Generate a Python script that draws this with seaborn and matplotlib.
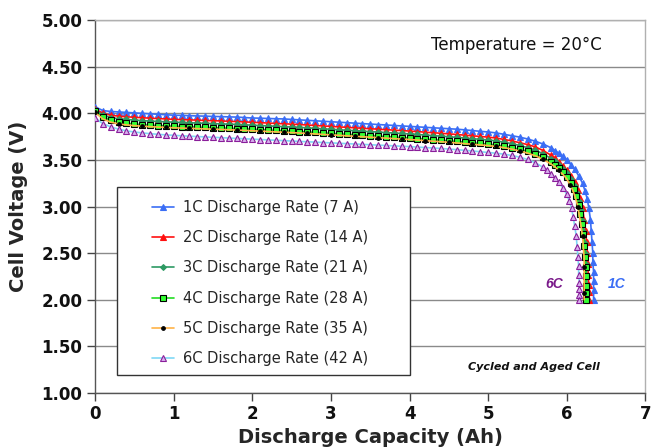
import matplotlib
matplotlib.use("Agg")
import matplotlib.pyplot as plt
from matplotlib.patches import Rectangle
import seaborn as sns
import pandas as pd

# ---------------- data ----------------
cap_flat = [0.0, 0.1, 0.2, 0.3, 0.4, 0.5, 0.6, 0.7, 0.8, 0.9,
            1.0, 1.1, 1.2, 1.3, 1.4, 1.5, 1.6, 1.7, 1.8, 1.9,
            2.0, 2.1, 2.2, 2.3, 2.4, 2.5, 2.6, 2.7, 2.8, 2.9,
            3.0, 3.1, 3.2, 3.3, 3.4, 3.5, 3.6, 3.7, 3.8, 3.9,
            4.0, 4.1, 4.2, 4.3, 4.4, 4.5, 4.6, 4.7, 4.8, 4.9,
            5.0]

v1_flat = [4.07, 4.03, 4.02, 4.015, 4.01, 4.005, 4.00, 3.995, 3.99, 3.985,
           3.98, 3.978, 3.975, 3.972, 3.97, 3.967, 3.965, 3.962, 3.96, 3.955,
           3.95, 3.948, 3.945, 3.942, 3.94, 3.935, 3.93, 3.925, 3.92, 3.915,
           3.91, 3.905, 3.90, 3.895, 3.89, 3.885, 3.88, 3.875, 3.87, 3.865,
           3.86, 3.855, 3.85, 3.845, 3.84, 3.835, 3.83, 3.823, 3.815, 3.807,
           3.80]
v2_flat = [4.05, 4.00, 3.98, 3.97, 3.963, 3.958, 3.953, 3.948, 3.944, 3.94,
           3.936, 3.933, 3.93, 3.927, 3.924, 3.921, 3.918, 3.915, 3.912, 3.908,
           3.904, 3.90, 3.896, 3.892, 3.888, 3.884, 3.88, 3.875, 3.87, 3.865,
           3.86, 3.855, 3.85, 3.845, 3.84, 3.835, 3.83, 3.825, 3.82, 3.815,
           3.81, 3.804, 3.798, 3.792, 3.786, 3.78, 3.773, 3.766, 3.759, 3.752,
           3.745]
v3_flat = [4.04, 3.98, 3.955, 3.942, 3.934, 3.928, 3.922, 3.917, 3.913, 3.909,
           3.905, 3.902, 3.899, 3.896, 3.893, 3.89, 3.887, 3.884, 3.881, 3.877,
           3.873, 3.869, 3.865, 3.861, 3.857, 3.853, 3.849, 3.844, 3.839, 3.834,
           3.829, 3.824, 3.819, 3.814, 3.809, 3.804, 3.799, 3.794, 3.789, 3.784,
           3.779, 3.773, 3.767, 3.761, 3.755, 3.749, 3.742, 3.735, 3.728, 3.721,
           3.714]
v4_flat = [4.03, 3.96, 3.925, 3.905, 3.893, 3.885, 3.878, 3.873, 3.869, 3.865,
           3.861, 3.858, 3.855, 3.852, 3.849, 3.846, 3.843, 3.84, 3.837, 3.833,
           3.829, 3.825, 3.821, 3.817, 3.813, 3.809, 3.805, 3.80, 3.795, 3.79,
           3.785, 3.78, 3.775, 3.77, 3.765, 3.76, 3.755, 3.75, 3.745, 3.74,
           3.735, 3.729, 3.723, 3.717, 3.711, 3.705, 3.698, 3.691, 3.684, 3.677,
           3.67]
v5_flat = [4.01, 3.94, 3.905, 3.887, 3.876, 3.868, 3.862, 3.857, 3.853, 3.849,
           3.845, 3.842, 3.839, 3.836, 3.833, 3.83, 3.827, 3.824, 3.821, 3.817,
           3.813, 3.809, 3.805, 3.801, 3.797, 3.793, 3.789, 3.784, 3.779, 3.774,
           3.769, 3.764, 3.759, 3.754, 3.749, 3.744, 3.739, 3.734, 3.729, 3.724,
           3.719, 3.713, 3.707, 3.701, 3.695, 3.689, 3.682, 3.675, 3.668, 3.661,
           3.654]
v6_flat = [3.95, 3.89, 3.855, 3.83, 3.812, 3.80, 3.79, 3.782, 3.775, 3.769,
           3.764, 3.759, 3.755, 3.751, 3.747, 3.743, 3.739, 3.735, 3.731, 3.727,
           3.723, 3.719, 3.715, 3.711, 3.707, 3.703, 3.699, 3.695, 3.691, 3.687,
           3.683, 3.679, 3.675, 3.671, 3.667, 3.663, 3.659, 3.655, 3.651, 3.647,
           3.643, 3.638, 3.633, 3.628, 3.623, 3.617, 3.61, 3.603, 3.596, 3.588,
           3.58]

c1_tail = [5.1, 5.2, 5.3, 5.4, 5.5, 5.6, 5.7, 5.8, 5.85, 5.9, 5.95, 6.0, 6.05, 6.1,
           6.15, 6.2, 6.23, 6.26, 6.28, 6.30, 6.31, 6.32, 6.33, 6.33, 6.34, 6.34, 6.34, 6.34]
v1_tail = [3.79, 3.775, 3.76, 3.745, 3.725, 3.70, 3.67, 3.63, 3.60, 3.57, 3.54, 3.50, 3.45, 3.40,
           3.33, 3.25, 3.17, 3.08, 2.98, 2.86, 2.74, 2.62, 2.50, 2.40, 2.30, 2.20, 2.10, 2.00]
c2_tail = [5.1, 5.2, 5.3, 5.4, 5.5, 5.6, 5.7, 5.8, 5.85, 5.9, 5.95, 6.0, 6.05,
           6.1, 6.14, 6.17, 6.2, 6.22, 6.24, 6.25, 6.26, 6.27, 6.27, 6.28, 6.28, 6.28]
v2_tail = [3.735, 3.72, 3.705, 3.685, 3.665, 3.64, 3.60, 3.55, 3.52, 3.48, 3.44, 3.39, 3.33,
           3.26, 3.18, 3.09, 2.98, 2.86, 2.74, 2.62, 2.50, 2.38, 2.26, 2.16, 2.08, 2.00]
c3_tail = [5.1, 5.2, 5.3, 5.4, 5.5, 5.6, 5.7, 5.8, 5.85, 5.9, 5.95, 6.0, 6.05,
           6.1, 6.13, 6.16, 6.18, 6.2, 6.22, 6.23, 6.24, 6.25, 6.25, 6.26, 6.26, 6.26]
v3_tail = [3.705, 3.69, 3.675, 3.655, 3.632, 3.605, 3.565, 3.515, 3.485, 3.445, 3.405, 3.355, 3.295,
           3.22, 3.15, 3.06, 2.96, 2.85, 2.73, 2.61, 2.49, 2.37, 2.25, 2.15, 2.07, 2.00]
c4_tail = [5.1, 5.2, 5.3, 5.4, 5.5, 5.6, 5.7, 5.8, 5.85, 5.9, 5.95, 6.0, 6.05,
           6.09, 6.12, 6.15, 6.17, 6.19, 6.21, 6.22, 6.23, 6.24, 6.24, 6.24, 6.24, 6.24]
v4_tail = [3.66, 3.648, 3.633, 3.614, 3.592, 3.565, 3.527, 3.478, 3.448, 3.41, 3.37, 3.32, 3.255,
           3.185, 3.11, 3.02, 2.92, 2.81, 2.70, 2.58, 2.46, 2.35, 2.25, 2.15, 2.07, 2.00]
c5_tail = [5.1, 5.2, 5.3, 5.4, 5.5, 5.6, 5.7, 5.8, 5.85, 5.9, 5.95, 6.0, 6.04,
           6.08, 6.11, 6.14, 6.16, 6.18, 6.2, 6.21, 6.22, 6.22, 6.22, 6.22, 6.22, 6.22]
v5_tail = [3.645, 3.632, 3.616, 3.596, 3.573, 3.545, 3.505, 3.455, 3.425, 3.387, 3.345, 3.295, 3.235,
           3.165, 3.09, 3.00, 2.90, 2.79, 2.68, 2.56, 2.45, 2.35, 2.25, 2.15, 2.07, 2.00]
c6_tail = [5.1, 5.2, 5.3, 5.4, 5.5, 5.6, 5.7, 5.75, 5.8, 5.85, 5.9, 5.95, 6.0,
           6.03, 6.06, 6.08, 6.1, 6.12, 6.13, 6.14, 6.15, 6.15, 6.16, 6.16, 6.16, 6.16]
v6_tail = [3.572, 3.562, 3.548, 3.53, 3.505, 3.47, 3.42, 3.39, 3.35, 3.31, 3.26, 3.20, 3.13,
           3.06, 2.98, 2.89, 2.79, 2.68, 2.57, 2.46, 2.36, 2.27, 2.18, 2.11, 2.05, 2.00]

labels = ["1C Discharge Rate (7 A)", "2C Discharge Rate (14 A)", "3C Discharge Rate (21 A)",
          "4C Discharge Rate (28 A)", "5C Discharge Rate (35 A)", "6C Discharge Rate (42 A)"]
caps = [cap_flat + c1_tail, cap_flat + c2_tail, cap_flat + c3_tail,
        cap_flat + c4_tail, cap_flat + c5_tail, cap_flat + c6_tail]
volts = [v1_flat + v1_tail, v2_flat + v2_tail, v3_flat + v3_tail,
         v4_flat + v4_tail, v5_flat + v5_tail, v6_flat + v6_tail]

x_ticks = [0, 1, 2, 3, 4, 5, 6, 7]
y_ticks = [1.00, 1.50, 2.00, 2.50, 3.00, 3.50, 4.00, 4.50, 5.00]

# ---------------- style ----------------
styles = [
    dict(color="#3b6ef5", marker="^", mfc="#3b6ef5", mec="#3b6ef5", ms=4.2, every=1),
    dict(color="#ff1010", marker="^", mfc="#ff1010", mec="#ff1010", ms=4.2, every=1),
    dict(color="#2e9a63", marker="D", mfc="#2e9a63", mec="#2e9a63", ms=3.0, every=1),
    dict(color="#22dd22", marker="s", mfc="#33ff33", mec="#000000", ms=3.8, every=1),
    dict(color="#ffb347", marker="o", mfc="#000000", mec="#000000", ms=2.6, every=3),
    dict(color="#7fd8f5", marker="^", mfc="#d8b0ee", mec="#8a1e9a", ms=4.5, every=1),
]

sns.set_theme(style="white")
plt.rcParams['font.family'] = ['DejaVu Sans']

fig = plt.figure(figsize=(6.53, 4.48), dpi=100)
ax = fig.add_axes([0.1455, 0.123, 0.8430, 0.832])

for lab, cx, vy, st in zip(labels, caps, volts, styles):
    df = pd.DataFrame({"cap": cx, "v": vy})
    sns.lineplot(data=df, x="cap", y="v", ax=ax, sort=False, estimator=None,
                 color=st["color"], marker=st["marker"], markerfacecolor=st["mfc"],
                 markeredgecolor=st["mec"], markersize=st["ms"], markeredgewidth=0.8,
                 markevery=st["every"], linewidth=1.2, label=lab, legend=False, zorder=3)

ax.set_xlim(0, 7)
ax.set_ylim(1.0, 5.0)
ax.set_xticks(x_ticks)
ax.set_yticks(y_ticks)
ax.set_xticklabels([str(t) for t in x_ticks], fontweight="bold", fontsize=12)
ax.set_yticklabels([f"{t:.2f}" for t in y_ticks], fontweight="bold", fontsize=12)
ax.tick_params(axis="both", direction="out", length=6, width=1, color="#444444",
               bottom=True, left=True, pad=3, labelcolor="#111111")
ax.yaxis.grid(True, color="#8a8a8a", linewidth=1.0, zorder=0)
ax.xaxis.grid(False)
ax.set_axisbelow(True)
for side in ["top", "right"]:
    ax.spines[side].set_color("#b0b0b0")
    ax.spines[side].set_linewidth(1.0)
for side in ["left", "bottom"]:
    ax.spines[side].set_color("#555555")
    ax.spines[side].set_linewidth(1.0)

ax.set_xlabel("Discharge Capacity (Ah)", fontweight="bold", fontsize=14, labelpad=3)
ax.set_ylabel("Cell Voltage (V)", fontweight="bold", fontsize=14, labelpad=10)

# legend box
rect = Rectangle((0.040, 0.048), 0.532, 0.504, transform=ax.transAxes,
                 facecolor="white", edgecolor="#333333", linewidth=1.0, zorder=2)
ax.add_patch(rect)
leg = ax.legend(loc="upper left", bbox_to_anchor=(0.104, 0.518), frameon=False,
                fontsize=10.5, handlelength=1.5, handletextpad=0.6,
                labelspacing=1.05, borderpad=0, borderaxespad=0)
leg.set_zorder(4)

# annotations
ax.text(5.36, 4.73, "Temperature = 20\u00b0C", fontsize=12, ha="center", va="center",
        color="#111111")
ax.text(5.84, 2.17, "6C", fontsize=10, fontweight="bold", style="italic",
        color="#7a1a8a", ha="center", va="center", family=["Liberation Sans"])
ax.text(6.63, 2.17, "1C", fontsize=10, fontweight="bold", style="italic",
        color="#3b6ef5", ha="center", va="center", family=["Liberation Sans"])
ax.text(5.58, 1.28, "Cycled and Aged Cell", fontsize=8, fontweight="bold",
        style="italic", color="#111111", ha="center", va="center")

fig.savefig("out.png", dpi=100)
